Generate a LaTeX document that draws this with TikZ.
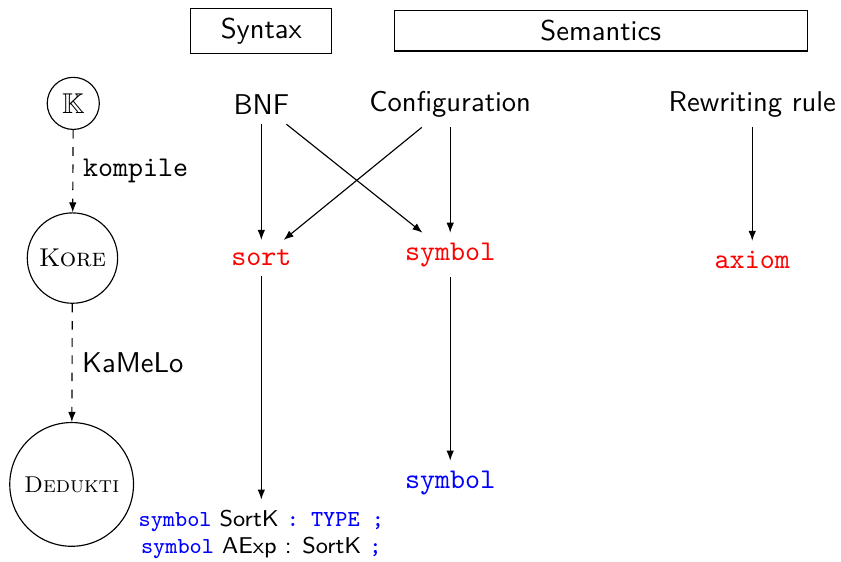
\documentclass[tikz,border=0pt]{standalone}
\usepackage{amssymb}
\usetikzlibrary{arrows.meta,positioning}
\tikzset{
  headbox/.style={rectangle,draw,font=\sffamily,minimum height=0.49cm},
  stage/.style={circle,draw,font=\rmfamily,inner sep=1pt},
  srcnode/.style={font=\sffamily},
  kwnode/.style={font=\ttfamily,text=red},
  dknode/.style={font=\ttfamily,text=blue},
  arr/.style={-{Latex[length=3.5pt]}},
  dasharr/.style={arr,dashed}
}

\begin{document}
\begin{tikzpicture}
  \useasboundingbox (0,0) rectangle (10.33,-6.90);
  % column headers
  \node[headbox,minimum width=1.73cm] (syn) at (3.21,-0.38) {Syntax};
  \node[headbox,minimum width=5.07cm] (sem) at (7.38,-0.38) {Semantics};
  % translation chain
  \node[stage,minimum size=0.64cm] (k) at (0.9,-1.27) {$\mathbb{K}$};
  \node[stage,minimum size=1.11cm,font=\small] (kore) at (0.89,-3.17) {\textsc{Kore}};
  \node[stage,minimum size=1.52cm,font=\footnotesize] (dk) at (0.88,-5.95) {\textsc{Dedukti}};
  \draw[dasharr] (k) -- node[right,font=\ttfamily]{kompile} (kore);
  \draw[dasharr] (kore) -- node[right,font=\sffamily]{KaMeLo} (dk);
  % K sources
  \node[srcnode] (bnf) at (3.21,-1.28) {BNF};
  \node[srcnode] (conf) at (5.53,-1.28) {Configuration};
  \node[srcnode] (rule) at (9.24,-1.28) {Rewriting rule};
  % Kore items
  \node[kwnode] (sort) at (3.21,-3.17) {sort};
  \node[kwnode] (sym) at (5.53,-3.13) {symbol};
  \node[kwnode] (ax) at (9.24,-3.19) {axiom};
  % Dedukti items
  \node[dknode] (dsym) at (5.53,-5.93) {symbol};
  \node[align=center,font=\footnotesize\sffamily] (decl) at (3.21,-6.56)
    {\texttt{\color{blue}symbol} SortK \texttt{\color{blue}: TYPE ;}\\
     \texttt{\color{blue}symbol} AExp : SortK \texttt{\color{blue};}};
  \draw[arr] (bnf) -- (sort);
  \draw[arr] (bnf) -- (sym);
  \draw[arr] (conf) -- (sort);
  \draw[arr] (conf) -- (sym);
  \draw[arr] (rule) -- (ax);
  \draw[arr] (sym) -- (dsym);
  \draw[arr] (sort) -- (decl);
\end{tikzpicture}
\end{document}
